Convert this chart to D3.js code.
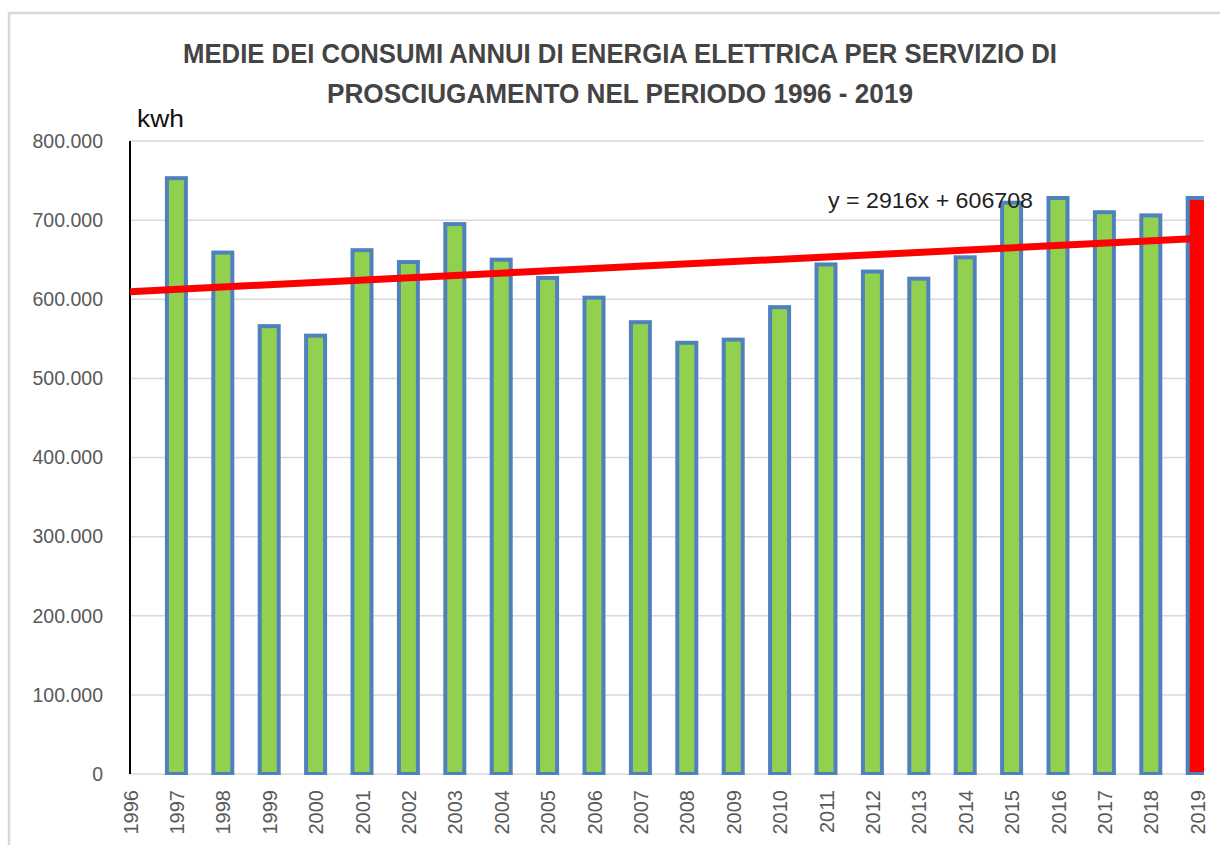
<!doctype html>
<html>
<head>
<meta charset="utf-8">
<style>
  body { margin: 0; background: #fff; }
  text { font-family: "Liberation Sans", Arial, sans-serif; }
</style>
</head>
<body>
<svg width="1220" height="845"></svg>
<script src="https://d3js.org/d3.v7.min.js"></script>
<script>
  // data
  const years = ["1996","1997","1998","1999","2000","2001","2002","2003","2004","2005","2006","2007",
                 "2008","2009","2010","2011","2012","2013","2014","2015","2016","2017","2018","2019"];
  const consumi = [0, 753000, 659000, 566000, 554000, 662000, 647000, 695000, 650000, 627000, 602000, 571000,
                   545000, 549000, 590000, 644000, 635000, 626000, 653000, 722000, 728000, 710000, 706000, 728000];
  const yTicks = [0, 100000, 200000, 300000, 400000, 500000, 600000, 700000, 800000];
  const trendSlope = 2916, trendIntercept = 606708;
  const titleLines = ["MEDIE DEI CONSUMI ANNUI DI ENERGIA ELETTRICA PER SERVIZIO DI",
                      "PROSCIUGAMENTO NEL PERIODO 1996 - 2019"];

  let svg = d3.select("svg");

  let pLeft = 130, pRight = 1204, pTop = 141, pBottom = 774;

  let x = d3.scalePoint().domain(years).range([pLeft, 1197.2]);
  let y = d3.scaleLinear().domain([0, 800000]).range([pBottom, pTop]);

  let fmt = d => d === 0 ? "0" : d3.format(",d")(d).replace(/,/g, ".");

  // chart frame
  svg.append("rect")
    .attr("x", 9).attr("y", 13).attr("width", 1220).attr("height", 840)
    .attr("fill", "none").attr("stroke", "#d9d9d9").attr("stroke-width", 2.5);

  // title
  svg.selectAll(".title").data(titleLines).enter().append("text")
    .attr("class", "title")
    .attr("x", 620).attr("y", (d, i) => 63 + i * 40)
    .attr("text-anchor", "middle")
    .attr("font-size", 27).attr("font-weight", "bold").attr("fill", "#444")
    .attr("textLength", (d, i) => i == 0 ? 874 : 586)
    .attr("lengthAdjust", "spacingAndGlyphs")
    .text(d => d);

  // gridlines
  svg.append("g").selectAll("line").data(yTicks.slice(1)).enter().append("line")
    .attr("x1", pLeft).attr("x2", pRight)
    .attr("y1", d => y(d)).attr("y2", d => y(d))
    .attr("stroke", "#d9d9d9").attr("stroke-width", 1.5);

  // y axis
  let yAxis = svg.append("g")
    .attr("transform", "translate(" + pLeft + ",0)")
    .call(d3.axisLeft(y).tickValues(yTicks).tickFormat(fmt).tickSize(0).tickPadding(27));
  yAxis.select(".domain").remove();
  yAxis.selectAll("text").attr("font-size", 19.5).attr("fill", "#595959")
    .attr("font-family", "Liberation Sans, Arial, sans-serif");

  // x axis baseline
  svg.append("line")
    .attr("x1", pLeft).attr("x2", pRight).attr("y1", pBottom).attr("y2", pBottom)
    .attr("stroke", "#d9d9d9").attr("stroke-width", 1.5);

  let xAxis = svg.append("g")
    .attr("transform", "translate(0," + pBottom + ")")
    .call(d3.axisBottom(x).tickSize(0));
  xAxis.select(".domain").remove();
  xAxis.selectAll("text")
    .attr("font-size", 20).attr("fill", "#595959")
    .attr("font-family", "Liberation Sans, Arial, sans-serif")
    .attr("text-anchor", "end")
    .attr("dy", "0.35em")
    .attr("transform", "translate(0,16) rotate(-90)")
    .attr("x", 0).attr("y", 0);

  // bars
  svg.append("clipPath").attr("id", "plot")
    .append("rect").attr("x", pLeft).attr("y", 0).attr("width", pRight - pLeft).attr("height", pBottom + 1);

  let bw = 19;
  svg.append("g").attr("clip-path", "url(#plot)")
    .selectAll("rect").data(years.map((d, i) => ({year: d, v: consumi[i]})).filter(d => d.v > 0))
    .enter().append("rect")
    .attr("x", d => x(d.year) - bw / 2)
    .attr("y", d => y(d.v))
    .attr("width", bw)
    .attr("height", d => pBottom - y(d.v))
    .attr("fill", d => d.year == "2019" ? "#ff0000" : "#92d050")
    .attr("stroke", "#4f81bd").attr("stroke-width", 4);

  // y axis line
  svg.append("line")
    .attr("x1", pLeft).attr("x2", pLeft).attr("y1", pTop).attr("y2", pBottom)
    .attr("stroke", "#000").attr("stroke-width", 2);

  // trend line
  let trend = years.map((d, i) => [x(d), y(trendSlope * (i + 1) + trendIntercept)]);
  svg.append("path")
    .attr("d", d3.line()([trend[0], trend[trend.length - 1]]))
    .attr("stroke", "#ff0000").attr("stroke-width", 7).attr("fill", "none");

  svg.append("text")
    .attr("x", 828).attr("y", 208)
    .attr("font-size", 22).attr("fill", "#222")
    .attr("textLength", 205).attr("lengthAdjust", "spacingAndGlyphs")
    .text("y = " + trendSlope + "x + " + trendIntercept);

  // unit label
  svg.append("text")
    .attr("x", 137).attr("y", 127)
    .attr("font-size", 23).attr("fill", "#111")
    .attr("textLength", 47).attr("lengthAdjust", "spacingAndGlyphs")
    .text("kwh");
</script>
</body>
</html>
